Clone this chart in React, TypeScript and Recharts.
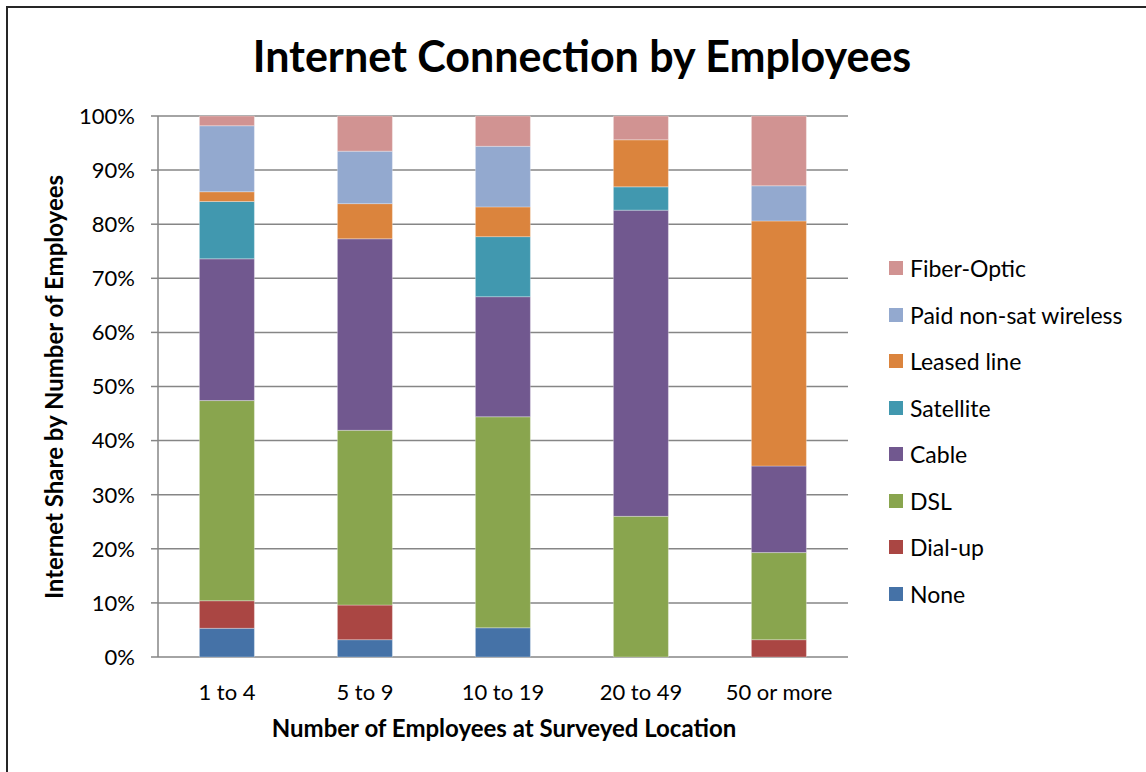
import * as React from 'react'
import { BarChart, Bar, XAxis, YAxis, CartesianGrid, Legend } from 'recharts'

// employee-size groups along the x axis
const groups = ['1 to 4', '5 to 9', '10 to 19', '20 to 49', '50 or more']

// share of each connection type, percent
const none = [5.3, 3.2, 5.4, 0, 0]
const dialUp = [5.1, 6.4, 0, 0, 3.2]
const dsl = [37.0, 32.3, 39.0, 26.0, 16.1]
const cable = [26.2, 35.4, 22.2, 56.6, 16.0]
const satellite = [10.6, 0, 11.1, 4.3, 0]
const leasedLine = [1.8, 6.5, 5.5, 8.7, 45.3]
const paidWireless = [12.2, 9.7, 11.2, 0, 6.5]
const fiberOptic = [1.8, 6.5, 5.6, 4.4, 12.9]

const yTicks = [0, 10, 20, 30, 40, 50, 60, 70, 80, 90, 100]
const edgeTicks = [0, 1, 2, 3, 4, 5]

const series = [
  { key: 'none', name: 'None', color: '#4572A7', values: none },
  { key: 'dialUp', name: 'Dial-up', color: '#AA4643', values: dialUp },
  { key: 'dsl', name: 'DSL', color: '#89A54E', values: dsl },
  { key: 'cable', name: 'Cable', color: '#71588F', values: cable },
  { key: 'satellite', name: 'Satellite', color: '#4198AF', values: satellite },
  { key: 'leased', name: 'Leased line', color: '#DB843D', values: leasedLine },
  { key: 'paid', name: 'Paid non-sat wireless', color: '#93A9CF', values: paidWireless },
  { key: 'fiber', name: 'Fiber-Optic', color: '#D19392', values: fiberOptic },
]

const rows = groups.map((group, i) => {
  const row: Record<string, string | number> = { group }
  series.forEach(s => { row[s.key] = s.values[i] })
  return row
})

const FONT = 'Lato, "Open Sans", sans-serif'
const AXIS = '#868686'

const renderLegend = () => (
  <div style={{ fontFamily: FONT, fontSize: 23, color: '#000' }}>
    {[...series].reverse().map(s => (
      <div key={s.key} style={{ display: 'flex', alignItems: 'center', height: 46.5 }}>
        <span style={{ width: 14, height: 14, background: s.color, marginRight: 7, flexShrink: 0 }} />
        <span>{s.name}</span>
      </div>
    ))}
  </div>
)

export default function App() {
  return (
    <div style={{ position: 'absolute', left: 0, top: 0, width: 1146, height: 772, background: '#fff' }}>
      <div style={{ position: 'absolute', left: 6, top: 6, right: 0, bottom: 0, borderLeft: '2px solid #262626', borderTop: '2px solid #262626' }} />
      <BarChart
        width={1146}
        height={772}
        data={rows}
        margin={{ top: 116, right: 43, bottom: 55, left: 58 }}
        barCategoryGap="30%"
      >
        <CartesianGrid xAxisId="cat" vertical={false} stroke={AXIS} strokeWidth={1.5} />
        <XAxis
          xAxisId="edge"
          type="number"
          domain={[0, 5]}
          allowDataOverflow
          ticks={edgeTicks}
          tick={false}
          height={0}
          tickSize={8}
          axisLine={{ stroke: AXIS, strokeWidth: 1.5 }}
          tickLine={{ stroke: AXIS, strokeWidth: 1.5 }}
        />
        <XAxis
          xAxisId="cat"
          dataKey="group"
          height={60}
          axisLine={false}
          tickLine={false}
          tickSize={0}
          tickMargin={27}
          tick={{ fontFamily: FONT, fontSize: 22, fill: '#000' }}
        />
        <YAxis
          domain={[0, 100]}
          ticks={yTicks}
          width={100}
          tickFormatter={(v: number) => `${v}%`}
          tickSize={7}
          tickMargin={16}
          axisLine={{ stroke: AXIS, strokeWidth: 1.5 }}
          tickLine={{ stroke: AXIS, strokeWidth: 1.5 }}
          tick={{ fontFamily: FONT, fontSize: 22, fill: '#000' }}
        />
        <Legend
          layout="vertical"
          align="right"
          verticalAlign="middle"
          content={renderLegend}
          wrapperStyle={{ left: 889, top: 245, width: 255 }}
        />
        {series.map(s => (
          <Bar
            key={s.key}
            xAxisId="cat"
            dataKey={s.key}
            name={s.name}
            stackId="share"
            fill={s.color}
            stroke="#ffffff"
            strokeOpacity={0.5}
            strokeWidth={0.6}
            isAnimationActive={false}
          />
        ))}
        <text x={582} y={72} textAnchor="middle" fontFamily={FONT} fontWeight={700} fontSize={43} fill="#000">
          Internet Connection by Employees
        </text>
        <text x={504} y={737} textAnchor="middle" fontFamily={FONT} fontWeight={700} fontSize={24} fill="#000">
          Number of Employees at Surveyed Location
        </text>
        <text
          x={63}
          y={387}
          textAnchor="middle"
          transform="rotate(-90 63 387)"
          fontFamily={FONT}
          fontWeight={700}
          fontSize={24}
          fill="#000"
        >
          Internet Share by Number of Employees
        </text>
      </BarChart>
    </div>
  )
}
